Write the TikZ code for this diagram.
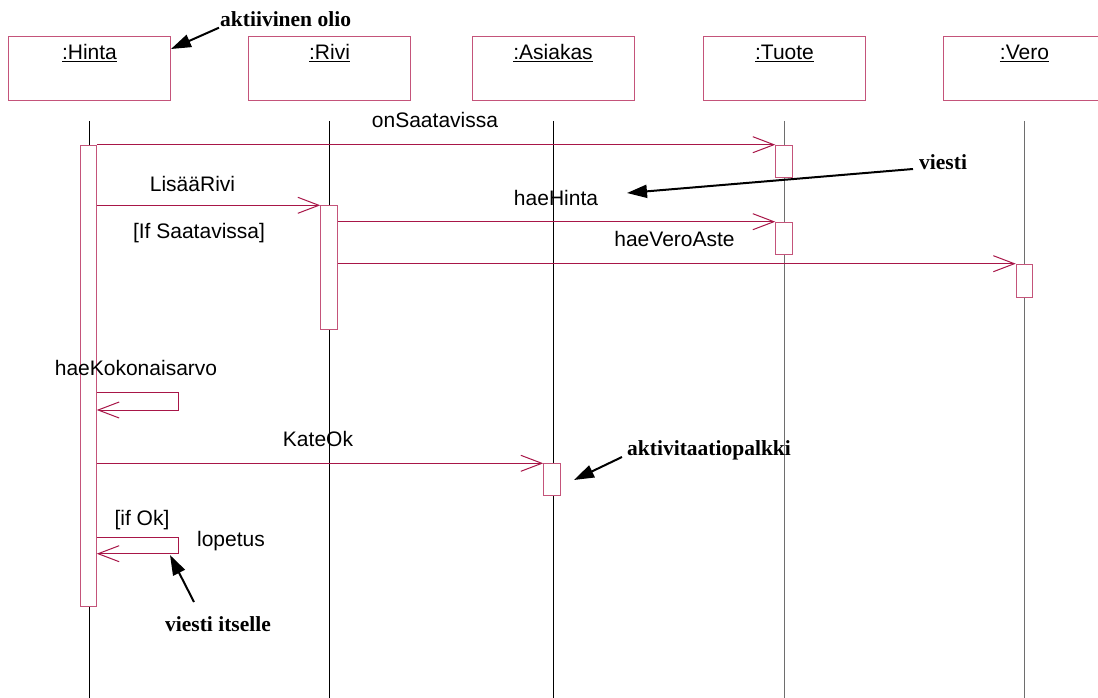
\documentclass[tikz,border=0pt]{standalone}
\usepackage{fontspec}
\setmainfont{Liberation Sans}
\newfontfamily\notefont{Liberation Serif}
\usetikzlibrary{arrows.meta}
\definecolor{boxpink}{RGB}{196,84,122}
\definecolor{msgred}{RGB}{168,22,72}
\definecolor{lifegray}{RGB}{110,110,110}
\tikzset{
  objbox/.style={draw=boxpink, line width=1pt, minimum width=162pt, minimum height=64pt, inner sep=0pt, anchor=north west},
  objname/.style={anchor=base, inner sep=0pt, font=\fontsize{21}{25}\selectfont},
  life/.style={line width=0.9pt, black},
  lifegrey/.style={line width=0.9pt, lifegray},
  actbar/.style={draw=boxpink, fill=white, line width=1pt, minimum width=16.5pt, inner sep=0pt, anchor=north},
  msg/.style={draw=msgred, line width=1pt, -{Straight Barb[length=21pt,width=16pt]}},
  selfmsg/.style={draw=msgred, line width=1pt, -{Straight Barb[length=21pt,width=16pt]}},
  msglabel/.style={anchor=base, inner sep=0pt, font=\fontsize{21}{25}\selectfont},
  note/.style={anchor=base west, inner sep=0pt, font=\notefont\bfseries\fontsize{21.5}{25}\selectfont},
  notearrow/.style={line width=2pt, black, -{Triangle[length=20pt,width=13pt]}}
}
\begin{document}
\begin{tikzpicture}[x=1pt,y=-1pt]
\clip (0,0) rectangle (1098,698);
\fill[white] (0,0) rectangle (1098,698);

% object boxes
\node[objbox] (hinta) at (8,36) {};
\node[objbox] (rivi) at (248,36) {};
\node[objbox] (asiakas) at (471.5,36) {};
\node[objbox] (tuote) at (703,36) {};
\node[objbox] (vero) at (943,36) {};
\node[objname] (hintaT) at ([yshift=-24pt]hinta.north) {\underline{:Hinta}};
\node[objname] (riviT) at ([yshift=-24pt]rivi.north) {\underline{:Rivi}};
\node[objname] (asiakasT) at ([yshift=-24pt]asiakas.north) {\underline{:Asiakas}};
\node[objname] (tuoteT) at ([yshift=-24pt]tuote.north) {\underline{:Tuote}};
\node[objname] (veroT) at ([yshift=-24pt]vero.north) {\underline{:Vero}};

% lifelines
\draw[life] (hinta.south |- 0,121) -- (hinta.south |- 0,698);
\draw[life] (rivi.south |- 0,121) -- (rivi.south |- 0,698);
\draw[life] (asiakas.south |- 0,121) -- (asiakas.south |- 0,698);
\draw[lifegrey] (tuote.south |- 0,121) -- (tuote.south |- 0,698);
\draw[lifegrey] (vero.south |- 0,121) -- (vero.south |- 0,698);

% activation bars
\node[actbar, minimum width=15.5pt, minimum height=461pt] (hb) at (88.5,144.7) {};
\node[actbar, minimum height=124pt] (rb) at (329,205.3) {};
\node[actbar, minimum height=32.4pt] (tb1) at (784,144.7) {};
\node[actbar, minimum height=32.3pt] (tb2) at (784,221.7) {};
\node[actbar, minimum height=33.6pt] (vb) at (1024.5,263.7) {};
\node[actbar, minimum height=32pt] (ab) at (552,463.3) {};

% messages
\draw[msg] (hb.north east) -- (tb1.north west);
\draw[msg] (hb.east |- rb.north) -- (rb.north west);
\draw[msg] (rb.east |- tb2.north) -- (tb2.north west);
\draw[msg] (rb.east |- vb.north) -- (vb.north west);
\draw[msg] (hb.east |- ab.north) -- (ab.north west);

% self messages
\coordinate (kokA) at (178.3,392.7);
\coordinate (kokB) at (178.3,410);
\draw[selfmsg] (hb.east |- kokA) -- (kokA) -- (kokB) -- (hb.east |- kokB);
\coordinate (lopA) at (178.3,537.3);
\coordinate (lopB) at (178.3,553.7);
\draw[selfmsg] (hb.east |- lopA) -- (lopA) -- (lopB) -- (hb.east |- lopB);

% message labels
\node[msglabel] (lOn) at (435,127.7) {onSaatavissa};
\node[msglabel] (lLis) at (192.5,191) {LisääRivi};
\node[msglabel] (lIf) at (199,238) {[If Saatavissa]};
\node[msglabel] (lHae) at (556,205) {haeHinta};
\node[msglabel] (lVero) at (674.5,246.7) {haeVeroAste};
\node[msglabel] (lKok) at (136,375.7) {haeKokonaisarvo};
\node[msglabel] (lKate) at (318,446) {KateOk};
\node[msglabel] (lIfOk) at (142,525.7) {[if Ok]};
\node[msglabel] (lLop) at (231,546.7) {lopetus};

% annotations
\node[note] (nAkt) at (220,26.7) {aktiivinen olio};
\node[note] (nViesti) at (919,169) {viesti};
\node[note] (nPalkki) at (627,455) {aktivitaatiopalkki};
\node[note, anchor=base] (nItse) at (218,631.7) {viesti itselle};

\coordinate (tipAkt) at (171,49);
\coordinate (tipViesti) at (627,193);
\coordinate (tipPalkki) at (574,480);
\coordinate (tipItse) at (170,555);
\coordinate (fromItse) at (194,602);

\draw[notearrow] ([shift={(-1,1)}]nAkt.base west) -- (tipAkt);
\draw[notearrow] ([xshift=-6pt]nViesti.base west) -- (tipViesti);
\draw[notearrow] ([shift={(-5,2)}]nPalkki.base west) -- (tipPalkki);
\draw[notearrow] (fromItse) -- (tipItse);
\end{tikzpicture}
\end{document}
